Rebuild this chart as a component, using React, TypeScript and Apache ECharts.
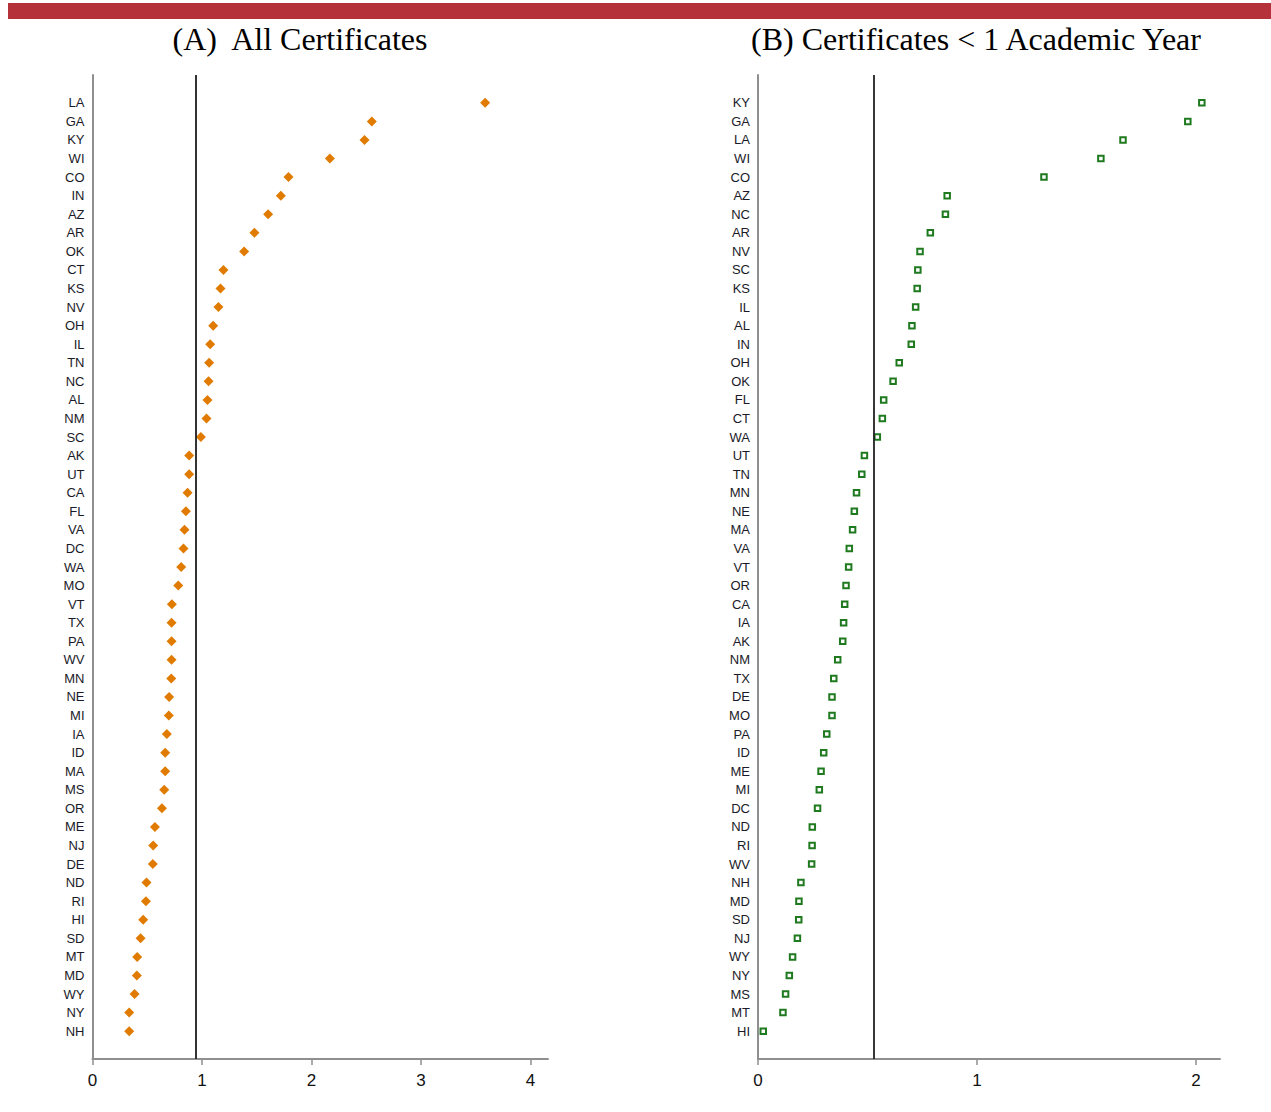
import React, { useEffect, useRef } from "react";
import * as echarts from "echarts";

const titleA = "(A)  All Certificates";
const titleB = "(B) Certificates < 1 Academic Year";

const statesA = [
  "LA", "GA", "KY", "WI", "CO", "IN", "AZ", "AR", "OK", "CT", "KS", "NV", "OH", "IL", "TN", "NC", "AL",
  "NM", "SC", "AK", "UT", "CA", "FL", "VA", "DC", "WA", "MO", "VT", "TX", "PA", "WV", "MN", "NE", "MI",
  "IA", "ID", "MA", "MS", "OR", "ME", "NJ", "DE", "ND", "RI", "HI", "SD", "MT", "MD", "WY", "NY", "NH",
];
const valuesA = [
  3.586, 2.551, 2.484, 2.168, 1.79, 1.72, 1.604, 1.479, 1.385, 1.196, 1.169, 1.15, 1.102, 1.075, 1.065, 1.06, 1.05,
  1.041, 0.99, 0.883, 0.883, 0.868, 0.853, 0.84, 0.831, 0.81, 0.783, 0.725, 0.722, 0.722, 0.722, 0.719, 0.7, 0.697,
  0.679, 0.664, 0.664, 0.655, 0.634, 0.57, 0.554, 0.551, 0.493, 0.488, 0.463, 0.439, 0.408, 0.405, 0.384, 0.335, 0.335,
];

const statesB = [
  "KY", "GA", "LA", "WI", "CO", "AZ", "NC", "AR", "NV", "SC", "KS", "IL", "AL", "IN", "OH", "OK", "FL",
  "CT", "WA", "UT", "TN", "MN", "NE", "MA", "VA", "VT", "OR", "CA", "IA", "AK", "NM", "TX", "DE", "MO",
  "PA", "ID", "ME", "MI", "DC", "ND", "RI", "WV", "NH", "MD", "SD", "NJ", "WY", "NY", "MS", "MT", "HI",
];
const valuesB = [
  2.027, 1.963, 1.667, 1.566, 1.306, 0.864, 0.856, 0.787, 0.74, 0.73, 0.727, 0.72, 0.703, 0.7, 0.645, 0.617, 0.574,
  0.568, 0.545, 0.486, 0.474, 0.45, 0.44, 0.432, 0.417, 0.414, 0.402, 0.396, 0.391, 0.387, 0.364, 0.346, 0.338, 0.338,
  0.314, 0.3, 0.288, 0.28, 0.272, 0.248, 0.247, 0.245, 0.196, 0.187, 0.186, 0.18, 0.158, 0.143, 0.126, 0.114, 0.024,
];

const refA = 0.94;
const refB = 0.53;
const ticksA = [0, 1, 2, 3, 4];
const ticksB = [0, 1, 2];
const maxA = 4.16;
const maxB = 2.11;

const AXIS_GRAY = "#8f8f8f";
const SANS = "'Liberation Sans', Arial, sans-serif";
const SERIF = "'Liberation Serif', 'Times New Roman', serif";

function yAxisFor(gridIndex: number, states: string[]) {
  return {
    type: "category",
    gridIndex,
    inverse: true,
    data: ["", ...states, ""],
    boundaryGap: true,
    axisLine: { show: true, lineStyle: { color: AXIS_GRAY, width: 2 } },
    axisTick: { show: false },
    splitLine: { show: false },
    axisLabel: {
      interval: 0,
      margin: 8,
      fontSize: 13,
      fontFamily: SANS,
      color: "#1a1a28",
    },
  };
}

function xAxisFor(gridIndex: number, max: number, ticks: number[]) {
  return {
    type: "value",
    gridIndex,
    min: 0,
    max,
    interval: 1,
    axisLine: { show: true, onZero: false, lineStyle: { color: AXIS_GRAY, width: 2 } },
    axisTick: { show: true, length: 6, customValues: ticks, lineStyle: { color: AXIS_GRAY, width: 1.5 } },
    splitLine: { show: false },
    axisLabel: {
      customValues: ticks,
      margin: 13,
      fontSize: 17,
      fontFamily: SANS,
      color: "#111",
    },
  };
}

export default function App() {
  const ref = useRef<HTMLDivElement>(null);

  useEffect(() => {
    if (!ref.current) return;
    const chart = echarts.init(ref.current, undefined, { renderer: "svg" });
    const option = {
      animation: false,
      backgroundColor: "#ffffff",
      graphic: [
        {
          type: "rect",
          shape: { x: 8, y: 3, width: 1263, height: 16 },
          style: { fill: "#b5323a" },
        },
        {
          type: "text",
          x: 300,
          y: 39,
          style: {
            text: titleA,
            fontSize: 32,
            fontFamily: SERIF,
            fill: "#000",
            textAlign: "center",
            textVerticalAlign: "middle",
          },
        },
        {
          type: "text",
          x: 976,
          y: 39,
          style: {
            text: titleB,
            fontSize: 32,
            fontFamily: SERIF,
            fill: "#000",
            textAlign: "center",
            textVerticalAlign: "middle",
          },
        },
      ],
      grid: [
        { left: 92.5, top: 75, width: 455.5, height: 984, containLabel: false },
        { left: 758, top: 75, width: 462, height: 984, containLabel: false },
      ],
      xAxis: [xAxisFor(0, maxA, ticksA), xAxisFor(1, maxB, ticksB)],
      yAxis: [yAxisFor(0, statesA), yAxisFor(1, statesB)],
      series: [
        {
          type: "scatter",
          xAxisIndex: 0,
          yAxisIndex: 0,
          symbol: "diamond",
          symbolSize: 10,
          itemStyle: { color: "#e07b00", opacity: 1 },
          data: statesA.map((s, i) => [valuesA[i], s]),
          markLine: {
            silent: true,
            symbol: "none",
            label: { show: false },
            lineStyle: { color: "#333", width: 2, type: "solid" },
            data: [{ xAxis: refA }],
          },
        },
        {
          type: "scatter",
          xAxisIndex: 1,
          yAxisIndex: 1,
          symbol: "rect",
          symbolSize: 5.5,
          itemStyle: { color: "#ffffff", borderColor: "#1f7a1f", borderWidth: 2, opacity: 1 },
          data: statesB.map((s, i) => [valuesB[i], s]),
          markLine: {
            silent: true,
            symbol: "none",
            label: { show: false },
            lineStyle: { color: "#222", width: 1.8, type: "solid" },
            data: [{ xAxis: refB }],
          },
        },
      ],
    };
    chart.setOption(option as any);
    return () => chart.dispose();
  }, []);

  return (
    <div
      ref={ref}
      style={{ position: "fixed", left: 0, top: 0, width: 1271, height: 1112 }}
    />
  );
}
